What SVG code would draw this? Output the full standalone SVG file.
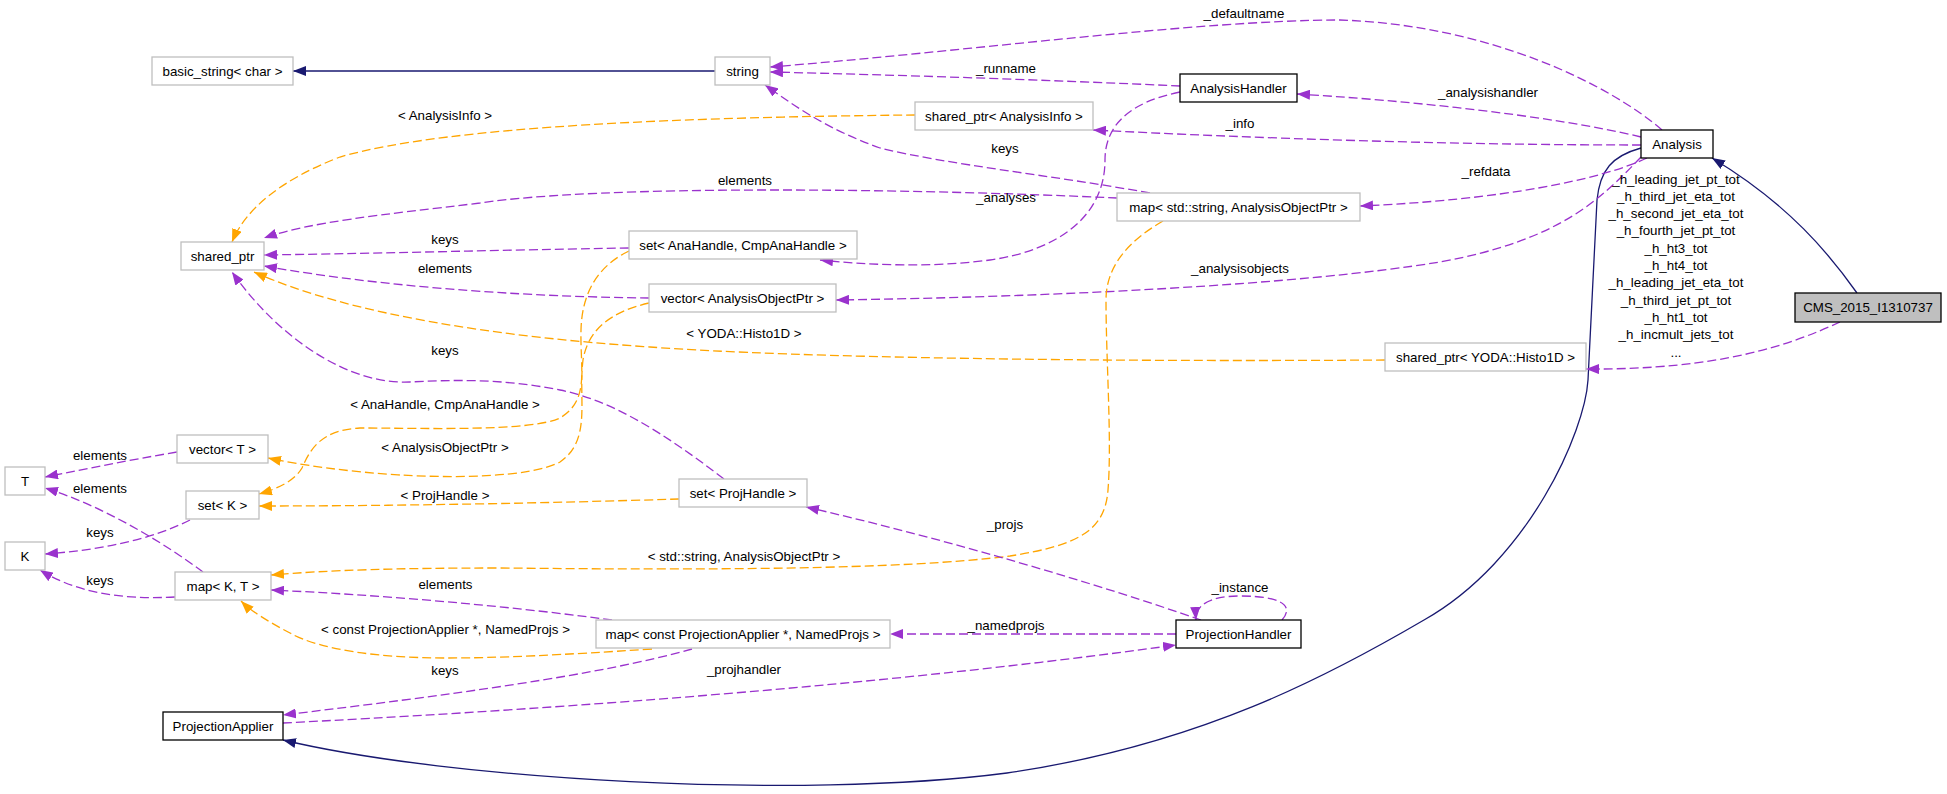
<svg xmlns="http://www.w3.org/2000/svg" width="1947" height="794" viewBox="0 0 1947 794">
<style>
text{font-family:"Liberation Sans",Arial,sans-serif;font-size:13.33px;fill:#000;}
.lbl{text-anchor:middle;}
.box{fill:#fff;stroke:#bfbfbf;stroke-width:1.3;}
.bbox{fill:#fff;stroke:#000;stroke-width:1.3;}
.gbox{fill:#bfbfbf;stroke:#000;stroke-width:1.3;}
.inh{fill:none;stroke:#191970;stroke-width:1.3;marker-end:url(#mN);}
.use{fill:none;stroke:#9a32cd;stroke-width:1.3;stroke-dasharray:9,4;marker-end:url(#mP);}
.tpl{fill:none;stroke:#ffa500;stroke-width:1.3;stroke-dasharray:9,4;marker-end:url(#mO);}
</style>
<defs>
<marker id="mN" markerUnits="userSpaceOnUse" markerWidth="14" markerHeight="10" refX="13" refY="5" orient="auto"><path d="M0,0 L13,5 L0,10 z" fill="#191970"/></marker>
<marker id="mP" markerUnits="userSpaceOnUse" markerWidth="14" markerHeight="10" refX="13" refY="5" orient="auto"><path d="M0,0 L13,5 L0,10 z" fill="#9a32cd"/></marker>
<marker id="mO" markerUnits="userSpaceOnUse" markerWidth="14" markerHeight="10" refX="13" refY="5" orient="auto"><path d="M0,0 L13,5 L0,10 z" fill="#ffa500"/></marker>
</defs>
<rect width="1947" height="794" fill="#fff"/>
<g id="connectors">
<path class="inh" d="M715,71 L293,71"/>
<path class="inh" d="M1857,293 C1830,255 1790,205 1712,158"/>
<path class="inh" d="M1641,148 C1612,156 1600,170 1597,200 C1594,250 1591,330 1588,380 C1585,430 1530,560 1424,620 C1330,675 1200,745 1007,773 C800,800 450,780 283,740"/>
<path class="use" d="M1662,130 C1610,85 1490,25 1340,20 C1200,20 960,52 770,67"/>
<text class="lbl" x="1244" y="17.5">_defaultname</text>
<path class="use" d="M1180,86 C1050,80 900,75 770,72"/>
<text class="lbl" x="1006" y="72.5">_runname</text>
<path class="use" d="M1641,137 C1550,115 1400,100 1297,94"/>
<text class="lbl" x="1488" y="96.5">_analysishandler</text>
<path class="use" d="M1641,145 C1450,145 1250,138 1093,130"/>
<text class="lbl" x="1240" y="127.5">_info</text>
<path class="use" d="M1647,158 C1600,180 1500,200 1360,206"/>
<text class="lbl" x="1486" y="175.5">_refdata</text>
<path class="use" d="M1641,157 C1600,200 1560,240 1440,262 C1300,285 1050,297 836,300"/>
<text class="lbl" x="1240" y="272.5">_analysisobjects</text>
<path class="use" d="M1117,198 C900,188 600,185 480,203 C380,215 310,222 264,238"/>
<text class="lbl" x="745" y="184.5">elements</text>
<path class="use" d="M1180,92 C1130,102 1105,125 1105,160 C1105,215 1060,250 990,260 C930,268 870,265 820,260"/>
<text class="lbl" x="1006" y="201.5">_analyses</text>
<path class="use" d="M1150,193 C1050,175 950,165 880,148 C830,130 800,110 765,85"/>
<text class="lbl" x="1005" y="152.5">keys</text>
<path class="use" d="M629,248 C500,250 400,253 264,255"/>
<text class="lbl" x="445" y="243.5">keys</text>
<path class="use" d="M649,298 C550,297 400,290 264,266"/>
<text class="lbl" x="445" y="272.5">elements</text>
<path class="use" d="M724,479 C660,430 610,400 560,390 C500,378 450,380 410,382 C350,385 280,340 232,272"/>
<text class="lbl" x="445" y="354.5">keys</text>
<path class="tpl" d="M915,115 C700,117 450,125 340,157 C280,180 245,210 232,242"/>
<text class="lbl" x="445" y="119.5">&lt; AnalysisInfo &gt;</text>
<path class="tpl" d="M1385,360 C1100,362 800,358 650,347 C500,337 350,315 254,272"/>
<text class="lbl" x="744" y="337.5">&lt; YODA::Histo1D &gt;</text>
<path class="tpl" d="M629,251 C600,265 582,290 581,330 C580,370 590,400 560,418 C530,432 420,428 360,428 C320,430 310,450 302,468 C295,480 280,488 259,494"/>
<text class="lbl" x="445" y="408.5">&lt; AnaHandle, CmpAnaHandle &gt;</text>
<path class="tpl" d="M649,303 C610,312 588,330 583,360 C578,400 592,440 560,462 C530,478 450,478 400,475 C350,472 300,465 268,458"/>
<text class="lbl" x="445" y="451.5">&lt; AnalysisObjectPtr &gt;</text>
<path class="tpl" d="M679,499 C550,503 400,506 259,506"/>
<text class="lbl" x="445" y="499.5">&lt; ProjHandle &gt;</text>
<path class="tpl" d="M1163,221 C1130,240 1106,265 1106,300 C1106,360 1112,440 1108,490 C1105,530 1080,545 1010,556 C900,570 700,570 500,568 C400,568 330,570 271,575"/>
<text class="lbl" x="744" y="560.5">&lt; std::string, AnalysisObjectPtr &gt;</text>
<path class="tpl" d="M652,649 C560,655 500,658 446,658 C380,658 320,650 290,633 C265,620 250,610 241,601"/>
<text class="lbl" x="445.5" y="633.5">&lt; const ProjectionApplier *, NamedProjs &gt;</text>
<path class="use" d="M177,452 C130,460 90,468 45,477"/>
<text class="lbl" x="100" y="459.5">elements</text>
<path class="use" d="M203,572 C160,540 100,505 45,488"/>
<text class="lbl" x="100" y="492.5">elements</text>
<path class="use" d="M190,520 C150,540 100,550 45,554"/>
<text class="lbl" x="100" y="536.5">keys</text>
<path class="use" d="M175,597 C120,600 75,592 40,570"/>
<text class="lbl" x="100" y="584.5">keys</text>
<path class="use" d="M612,620 C500,605 380,595 271,590"/>
<text class="lbl" x="445.5" y="588.5">elements</text>
<path class="use" d="M692,649 C600,675 450,695 283,715"/>
<text class="lbl" x="445" y="674.5">keys</text>
<path class="use" d="M1176,634 L890,634"/>
<text class="lbl" x="1006" y="629.5">_namedprojs</text>
<path class="use" d="M283,723 C500,712 850,690 1176,645"/>
<text class="lbl" x="744" y="673.5">_projhandler</text>
<path class="use" d="M1282,620 C1295,605 1280,596 1240,596 C1210,596 1195,605 1196,620"/>
<text class="lbl" x="1240" y="591.5">_instance</text>
<path class="use" d="M1201,620 C1100,585 950,540 806,507"/>
<text class="lbl" x="1005" y="528.5">_projs</text>
<path class="use" d="M1840,322 C1790,345 1720,370 1586,369"/>
<text class="lbl" x="1676"><tspan x="1676" y="183.5">_h_leading_jet_pt_tot</tspan><tspan x="1676" y="200.8">_h_third_jet_eta_tot</tspan><tspan x="1676" y="218.1">_h_second_jet_eta_tot</tspan><tspan x="1676" y="235.4">_h_fourth_jet_pt_tot</tspan><tspan x="1676" y="252.7">_h_ht3_tot</tspan><tspan x="1676" y="270">_h_ht4_tot</tspan><tspan x="1676" y="287.3">_h_leading_jet_eta_tot</tspan><tspan x="1676" y="304.6">_h_third_jet_pt_tot</tspan><tspan x="1676" y="321.9">_h_ht1_tot</tspan><tspan x="1676" y="339.2">_h_incmult_jets_tot</tspan><tspan x="1676" y="356.5">...</tspan></text>
</g>
<g id="node-basic_string"><rect class="box" x="152" y="57" width="141" height="28"/><text class="lbl" x="222.5" y="75.5">basic_string&lt; char &gt;</text></g>
<g id="node-string"><rect class="box" x="715" y="57" width="55" height="28"/><text class="lbl" x="742.5" y="75.5">string</text></g>
<g id="node-AnalysisHandler"><rect class="bbox" x="1180" y="74" width="117" height="28"/><text class="lbl" x="1238.5" y="92.5">AnalysisHandler</text></g>
<g id="node-shared_ptr_AnalysisInfo"><rect class="box" x="915" y="102" width="178" height="28"/><text class="lbl" x="1004" y="120.5">shared_ptr&lt; AnalysisInfo &gt;</text></g>
<g id="node-Analysis"><rect class="bbox" x="1641" y="130" width="72" height="28"/><text class="lbl" x="1677" y="148.5">Analysis</text></g>
<g id="node-map_string_AOP"><rect class="box" x="1117" y="193" width="243" height="28"/><text class="lbl" x="1238.5" y="211.5">map&lt; std::string, AnalysisObjectPtr &gt;</text></g>
<g id="node-shared_ptr"><rect class="box" x="181" y="242" width="83" height="28"/><text class="lbl" x="222.5" y="260.5">shared_ptr</text></g>
<g id="node-set_AnaHandle"><rect class="box" x="629" y="231" width="228" height="28"/><text class="lbl" x="743" y="249.5">set&lt; AnaHandle, CmpAnaHandle &gt;</text></g>
<g id="node-vector_AOP"><rect class="box" x="649" y="284" width="187" height="28"/><text class="lbl" x="742.5" y="302.5">vector&lt; AnalysisObjectPtr &gt;</text></g>
<g id="node-CMS_2015_I1310737"><rect class="gbox" x="1795" y="293" width="146" height="29"/><text class="lbl" x="1868" y="312">CMS_2015_I1310737</text></g>
<g id="node-shared_ptr_Histo1D"><rect class="box" x="1385" y="343" width="201" height="28"/><text class="lbl" x="1485.5" y="361.5">shared_ptr&lt; YODA::Histo1D &gt;</text></g>
<g id="node-vector_T"><rect class="box" x="177" y="435" width="91" height="28"/><text class="lbl" x="222.5" y="453.5">vector&lt; T &gt;</text></g>
<g id="node-T"><rect class="box" x="5" y="467" width="40" height="28"/><text class="lbl" x="25" y="485.5">T</text></g>
<g id="node-set_K"><rect class="box" x="186" y="491" width="73" height="28"/><text class="lbl" x="222.5" y="509.5">set&lt; K &gt;</text></g>
<g id="node-set_ProjHandle"><rect class="box" x="679" y="479" width="128" height="28"/><text class="lbl" x="743" y="497.5">set&lt; ProjHandle &gt;</text></g>
<g id="node-K"><rect class="box" x="5" y="542" width="40" height="28"/><text class="lbl" x="25" y="560.5">K</text></g>
<g id="node-map_K_T"><rect class="box" x="175" y="572" width="96" height="28"/><text class="lbl" x="223" y="590.5">map&lt; K, T &gt;</text></g>
<g id="node-map_const_PA"><rect class="box" x="596" y="620" width="294" height="28"/><text class="lbl" x="743" y="638.5">map&lt; const ProjectionApplier *, NamedProjs &gt;</text></g>
<g id="node-ProjectionHandler"><rect class="bbox" x="1176" y="620" width="125" height="28"/><text class="lbl" x="1238.5" y="638.5">ProjectionHandler</text></g>
<g id="node-ProjectionApplier"><rect class="bbox" x="163" y="712" width="120" height="28"/><text class="lbl" x="223" y="730.5">ProjectionApplier</text></g>
</svg>
